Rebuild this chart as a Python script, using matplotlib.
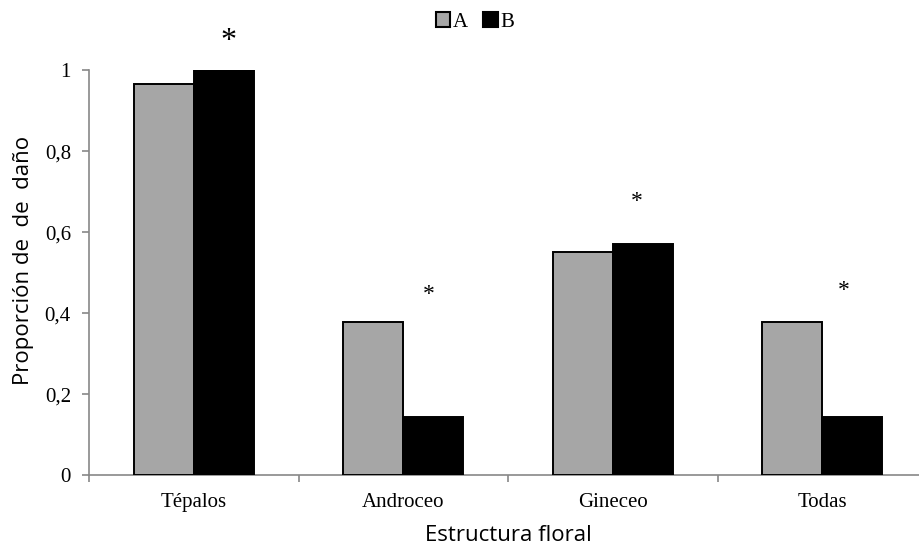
" Damage proportion per floral structure, groups A and B "

# imports
import matplotlib
matplotlib.use("Agg")
import matplotlib.pyplot as plt
from matplotlib.patches import Patch

categories = ["Tépalos", "Androceo", "Gineceo", "Todas"]
group_a = [0.965, 0.379, 0.551, 0.378]
group_b = [1.0, 0.143, 0.571, 0.143]
series_names = ["A", "B"]
yticks = [0, 0.2, 0.4, 0.6, 0.8, 1]
ytick_labels = ["0", "0,2", "0,4", "0,6", "0,8", "1"]
# significance marks: (category position, height)
star_x = [0.165, 1.124, 2.117, 3.105]
star_y = [1.072, 0.445, 0.677, 0.457]
star_size = [23, 17, 17, 17]

serif = "Liberation Serif"
sans = "Open Sans"

fig = plt.figure(figsize=(9.19, 5.51), dpi=100)
ax = fig.add_axes([89 / 919, 1 - 475 / 551, 838 / 919, (475 - 70.3) / 551])

width = 0.2857
xs = list(range(len(categories)))
ax.bar([x - width / 2 for x in xs], group_a, width, color="#a6a6a6",
       edgecolor="black", linewidth=1.4, label=series_names[0], zorder=3)
ax.bar([x + width / 2 for x in xs], group_b, width, color="black",
       edgecolor="black", linewidth=1.4, label=series_names[1], zorder=3)

for sx, sy, ss in zip(star_x, star_y, star_size):
    ax.text(sx, sy, "*", ha="center", va="center", fontsize=ss,
            family=serif, clip_on=False)

ax.set_xlim(-0.5, 3.5)
ax.set_ylim(0, 1)
ax.set_yticks(yticks)
ax.set_yticklabels(ytick_labels, family=serif, fontsize=15)
ax.set_xticks([-0.5, 0.5, 1.5, 2.5, 3.5])
ax.set_xticklabels([])
ax.set_xticks(xs, minor=True)
ax.set_xticklabels(categories, minor=True, family=serif, fontsize=15)
ax.tick_params(axis="x", which="minor", length=0, pad=13)
ax.tick_params(axis="both", which="major", direction="out", length=5,
               color="#888888", width=1.2)
ax.tick_params(axis="y", pad=8)

for side in ["top", "right"]:
    ax.spines[side].set_visible(False)
for side in ["left", "bottom"]:
    ax.spines[side].set_color("#888888")
    ax.spines[side].set_linewidth(1.2)

ax.set_xlabel("Estructura floral", family=sans, fontsize=16, labelpad=9)
ax.set_ylabel("Proporción de  de  daño", family=sans, fontsize=16)
ax.yaxis.set_label_coords(-0.066, 0.531)

handles = [Patch(facecolor="#a6a6a6", edgecolor="black", linewidth=1.5),
           Patch(facecolor="black", edgecolor="black", linewidth=1.5)]
fig.legend(handles, series_names, loc="center", bbox_to_anchor=(475 / 919, 1 - 22 / 551),
           ncol=2, frameon=False, prop={"family": serif, "size": 15},
           handlelength=0.7, handleheight=0.7, handletextpad=0.15, columnspacing=0.7)

fig.savefig("out.png", dpi=100)
